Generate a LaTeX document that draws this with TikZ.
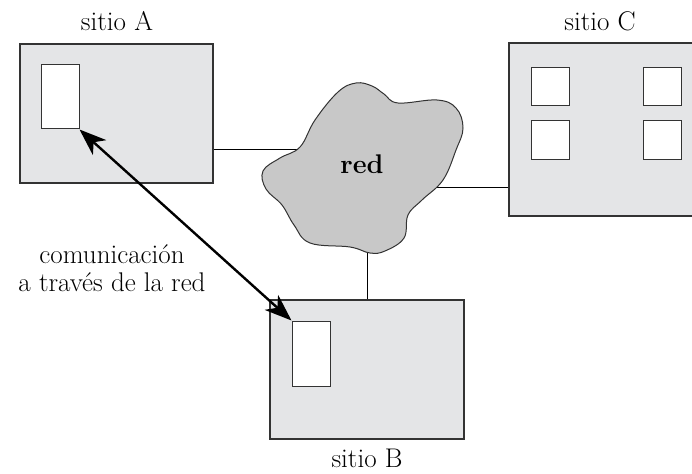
\documentclass[tikz,border=0pt]{standalone}
\usepackage{fontspec}
\setmainfont{Latin Modern Roman}
\usetikzlibrary{arrows.meta,calc}
\definecolor{boxfill}{HTML}{E4E5E7}
\definecolor{cloudfill}{HTML}{C8C8C8}
\definecolor{edge}{HTML}{333333}
\tikzset{
  site/.style={draw=edge,fill=boxfill,line width=1.2pt,inner sep=0pt,rectangle},
  host/.style={draw=edge,fill=white,line width=1pt,inner sep=0pt,rectangle},
  link/.style={draw=black,line width=0.9pt},
  lbl/.style={font=\fontsize{27}{28}\selectfont,align=center,inner sep=0pt},
  comm/.style={line width=2.4pt,{Stealth[length=27pt,width=20pt,inset=8pt]}-{Stealth[length=27pt,width=20pt,inset=8pt]}}
}
\begin{document}
\begin{tikzpicture}[x=1pt,y=-1pt]
\useasboundingbox (0,0) rectangle (692,473);
% sites
\node[site,minimum width=193pt,minimum height=139pt] (A) at (116.5,113.5) {};
\node[site,minimum width=194pt,minimum height=139pt] (B) at (367,369.5) {};
\node[site,minimum width=191pt,minimum height=173pt] (C) at (604.5,129.5) {};
% hosts
\node[host,minimum width=38pt,minimum height=64pt] (inA) at (60,97) {};
\node[host,minimum width=38pt,minimum height=65pt] (inB) at (311,353.5) {};
\node[host,minimum width=38pt,minimum height=38pt] (c1) at (550,87) {};
\node[host,minimum width=38pt,minimum height=38pt] (c2) at (662.5,87) {};
\node[host,minimum width=38pt,minimum height=38pt] (c3) at (550,140) {};
\node[host,minimum width=38pt,minimum height=38pt] (c4) at (662.5,140) {};
% links into the cloud
\coordinate (cA) at (305,149);
\coordinate (cC) at (425,187);
\coordinate (cB) at (367,240);
\draw[link] (cA) -- (cA -| A.east);
\draw[link] (cC) -- (cC -| C.west);
\draw[link] (cB) -- (cB |- B.north);
% cloud
\draw[draw=edge,fill=cloudfill,line width=1pt] plot[smooth cycle,tension=0.65] coordinates {
 (356,83) (372,86) (384,94) (398,103) (437,100) (456,108) (463,128) (456,150) (443,180)
 (422,200) (408,215) (404,238) (385,251) (370,253) (350,247) (310,243) (294,225)
 (282,205) (266,189) (263,171) (280,158) (300,147) (315,120) (338,92)};
\node[lbl,font=\fontsize{27}{28}\selectfont\bfseries] (red) at (362,164) {red};
% labels
\node[lbl] (lA) at (117,21) {sitio A};
\node[lbl] (lC) at (600,21) {sitio C};
\node[lbl] (lB) at (367,458) {sitio B};
\node[lbl] (lcom) at (112,268) {comunicación\\a través de la red};
% communication arrow
\draw[comm] (inA.south east) -- (inB.north west);
\end{tikzpicture}
\end{document}
